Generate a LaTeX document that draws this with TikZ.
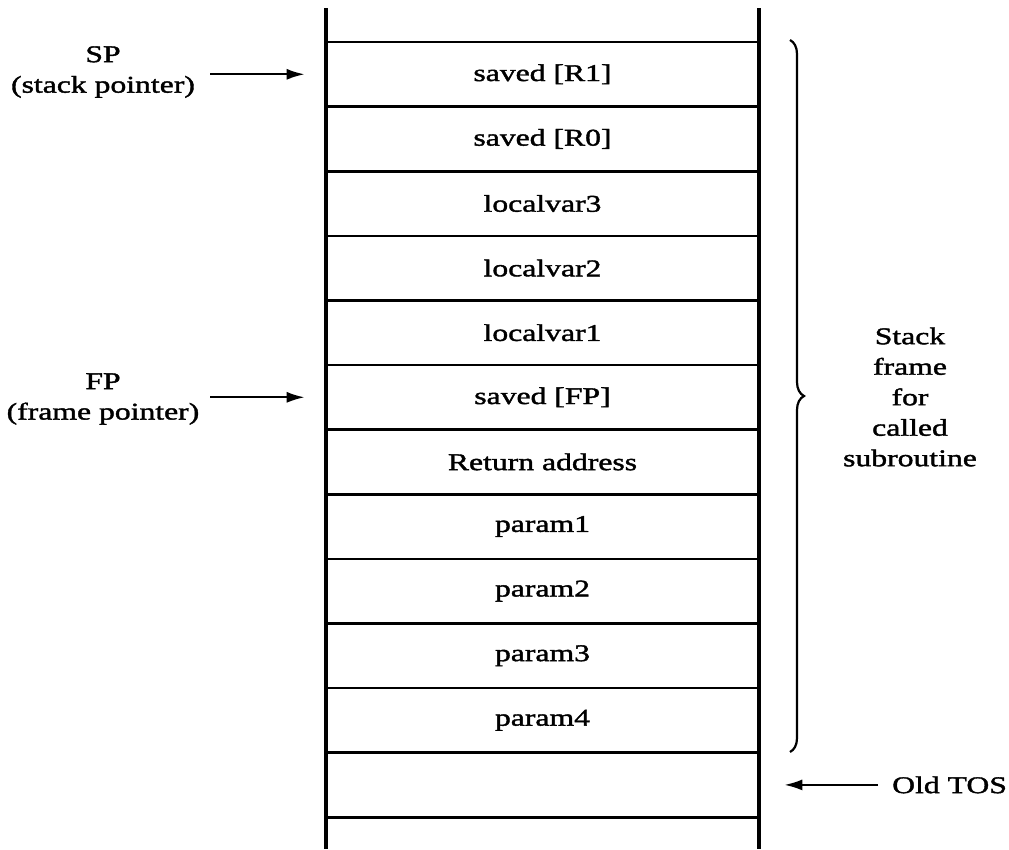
\documentclass[tikz,border=0pt]{standalone}
\usepackage{fontspec}
\setmainfont[FakeStretch=1.32,FakeBold=1.6]{Liberation Serif}
\usetikzlibrary{arrows.meta,decorations.pathreplacing}
\begin{document}
\begin{tikzpicture}[x=1pt,y=-1pt,
  cell/.style={draw, line width=2.6pt, minimum width=433pt, minimum height=64.6pt, inner sep=0pt, font=\fontsize{24}{26}\selectfont},
  lbl/.style={align=center, font=\fontsize{24}{30.5}\selectfont},
  ptr/.style={line width=2.2pt, -{Latex[length=18pt,width=11pt]}}]
\useasboundingbox (0,0) rectangle (1009,849);
\foreach \t [count=\k from 0] in {saved [R1],saved [R0],localvar3,localvar2,localvar1,saved [FP],Return address,param1,param2,param3,param4,{}}{
  \node[cell] (c\k) at (542.5,{42+64.6*\k+32.3}) {\t};
}
\draw[line width=3.2pt] (326,8) -- (326,849);
\draw[line width=3.2pt] (759,8) -- (759,849);
\coordinate (bt) at (790,40);
\coordinate (bb) at (790,752);
\draw[line width=2.2pt, decorate, decoration={brace, amplitude=14pt}] (bt) -- (bb);
\node[lbl] (sp) at (103,72) {SP\\(stack pointer)};
\node[lbl] (fp) at (103,399) {FP\\(frame pointer)};
\node[lbl] (sf) at (910,397) {Stack\\frame\\for\\called\\subroutine};
\coordinate (tx) at (892,0);
\node[lbl, anchor=west, inner sep=0pt] (tos) at (tx |- c11.center) {Old TOS};
\coordinate (spa) at (210,0);
\coordinate (fpa) at (210,0);
\draw[ptr] (spa |- c0.west) -- ([xshift=-20pt]c0.west);
\draw[ptr] (fpa |- c5.west) -- ([xshift=-20pt]c5.west);
\draw[ptr] ([xshift=-14pt]tos.west) -- ([xshift=24pt]c11.east);
\end{tikzpicture}
\end{document}
